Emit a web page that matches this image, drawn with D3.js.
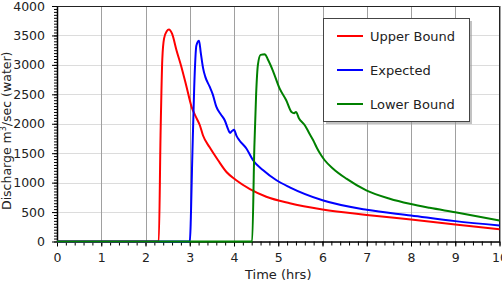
<!DOCTYPE html>
<html>
<head>
<meta charset="utf-8">
<script src="https://cdn.jsdelivr.net/npm/d3@7"></script>
<style>
  body { margin: 0; background: #fff; }
  text { font-family: Verdana, "DejaVu Sans", sans-serif; fill: #222; }
</style>
</head>
<body>
<div id="chart"></div>
<script>
// hydrograph data (time in hrs, discharge)
var upperT = [0, 2.30, 2.34, 2.38, 2.42, 2.48, 2.53, 2.60, 2.70, 2.81, 2.92, 3.04, 3.15, 3.23, 3.30, 3.45, 3.64, 3.83, 4.05, 4.36, 4.73, 5.26, 6.0, 7.0, 8.0, 9.0, 10];
var upperQ = [0, 0, 1800, 3100, 3450, 3570, 3600, 3530, 3250, 2970, 2650, 2290, 2100, 1970, 1800, 1600, 1380, 1180, 1040, 890, 760, 650, 545, 452, 372, 290, 210];

var expT = [0, 3.00, 3.06, 3.10, 3.15, 3.21, 3.25, 3.30, 3.35, 3.45, 3.52, 3.60, 3.70, 3.79, 3.87, 3.91, 3.96, 4.00, 4.06, 4.12, 4.28, 4.43, 4.66, 4.96, 5.26, 6.0, 7.0, 8.0, 9.0, 10];
var expQ = [0, 0, 1500, 2600, 3330, 3410, 3200, 2950, 2800, 2630, 2500, 2290, 2160, 2060, 1900, 1845, 1880, 1900, 1790, 1720, 1580, 1380, 1210, 1040, 920, 700, 538, 443, 346, 272];

var lowerT = [0, 4.41, 4.46, 4.50, 4.54, 4.60, 4.70, 4.76, 4.88, 5.03, 5.18, 5.30, 5.36, 5.40, 5.47, 5.60, 5.70, 5.79, 5.88, 5.97, 6.05, 6.24, 6.54, 6.99, 7.52, 7.97, 8.42, 9.0, 10];
var lowerQ = [0, 0, 1600, 2500, 3000, 3170, 3180, 3100, 2900, 2600, 2400, 2200, 2180, 2200, 2090, 1975, 1840, 1720, 1580, 1465, 1380, 1237, 1067, 868, 726, 640, 572, 497, 357];

var seriesNames = ["Upper Bound", "Expected", "Lower Bound"];
var seriesColors = ["#ff0000", "#0000ff", "#008000"];
var xTicks = [0, 1, 2, 3, 4, 5, 6, 7, 8, 9, 10];
var yTicks = [0, 500, 1000, 1500, 2000, 2500, 3000, 3500, 4000];

var margin = { top: 6, right: 2.5, bottom: 43.5, left: 57 },
    width = 502 - margin.left - margin.right,
    height = 285 - margin.top - margin.bottom;

var svg = d3.select("#chart")
    .append("svg")
    .attr("width", 502)
    .attr("height", 285)
    .append("g")
    .attr("transform", "translate(" + margin.left + "," + margin.top + ")");

var x = d3.scaleLinear().domain([0, 10]).range([0, width]);
var y = d3.scaleLinear().domain([0, 4000]).range([height, 0]);

// grid lines
svg.append("g").selectAll("line")
    .data(yTicks)
    .enter().append("line")
    .attr("x1", 0).attr("x2", width)
    .attr("y1", function(d) { return Math.round(y(d)) + 0.5; })
    .attr("y2", function(d) { return Math.round(y(d)) + 0.5; })
    .attr("stroke", "#dcdcdc");

svg.append("g").selectAll("line")
    .data(xTicks)
    .enter().append("line")
    .attr("y1", 0).attr("y2", height)
    .attr("x1", function(d) { return Math.round(x(d)) + 0.5; })
    .attr("x2", function(d) { return Math.round(x(d)) + 0.5; })
    .attr("stroke", "#a0a0a0");

// border top / right
svg.append("path")
    .attr("d", "M0,0.5H" + width + "V" + height)
    .attr("fill", "none")
    .attr("stroke", "#222");

// minor ticks
var xMinor = d3.range(0, 10.001, 0.2);
var yMinor = d3.range(0, 4000.1, 50);

svg.append("g")
    .attr("transform", "translate(0," + height + ")")
    .call(d3.axisBottom(x).tickValues(xMinor).tickSize(4).tickFormat(""))
    .call(function(g) { g.select(".domain").remove(); });

svg.append("g")
    .call(d3.axisLeft(y).tickValues(yMinor).tickSize(3).tickFormat(""))
    .call(function(g) { g.select(".domain").remove(); });

// main axes
var xAxis = svg.append("g")
    .attr("transform", "translate(0," + height + ")")
    .call(d3.axisBottom(x).tickValues(xTicks).tickSize(5).tickSizeOuter(0).tickPadding(7).tickFormat(d3.format("d")));
xAxis.selectAll("text").attr("font-size", "12.5px");
xAxis.select(".domain").attr("stroke-width", 1.5);

var yAxis = svg.append("g")
    .call(d3.axisLeft(y).tickValues(yTicks).tickSize(5).tickSizeOuter(0).tickPadding(7).tickFormat(d3.format("d")));
yAxis.selectAll("text").attr("font-size", "12.5px");
yAxis.select(".domain").attr("stroke-width", 1.5);

// axis titles
svg.append("text")
    .attr("x", width / 2)
    .attr("y", height + 37)
    .attr("text-anchor", "middle")
    .attr("font-size", "13px")
    .text("Time (hrs)");

var yTitle = svg.append("text")
    .attr("transform", "translate(" + (-margin.left + 11) + "," + (height / 2 + 7) + ") rotate(-90)")
    .attr("text-anchor", "middle")
    .attr("font-size", "12.5px");
yTitle.append("tspan").text("Discharge m");
yTitle.append("tspan").attr("font-size", "8px").attr("dy", "-5").text("3");
yTitle.append("tspan").attr("dy", "5").text("/sec (water)");

// lines
var series = [
  { t: upperT, q: upperQ },
  { t: expT, q: expQ },
  { t: lowerT, q: lowerQ }
];

var line = d3.line()
    .x(function(d) { return x(d[0]); })
    .y(function(d) { return y(d[1]); })
    .curve(d3.curveMonotoneX);

series.forEach(function(s, i) {
  var pts = s.t.map(function(t, j) { return [t, s.q[j]]; });
  svg.append("path")
      .datum(pts)
      .attr("d", line)
      .attr("fill", "none")
      .attr("stroke", seriesColors[i])
      .attr("stroke-width", 2);
});

// legend
var lx = 323 - margin.left, ly = 18 - margin.top, lw = 146, lh = 103;
svg.append("rect")
    .attr("x", lx + 3).attr("y", ly + 3)
    .attr("width", lw).attr("height", lh)
    .attr("fill", "#999")
    .attr("opacity", 0.6);
svg.append("rect")
    .attr("x", lx + 0.5).attr("y", ly + 0.5)
    .attr("width", lw).attr("height", lh)
    .attr("fill", "#fff")
    .attr("stroke", "#444");

seriesNames.forEach(function(name, i) {
  var yy = ly + 18 + i * 34;
  svg.append("line")
      .attr("x1", lx + 14).attr("x2", lx + 40)
      .attr("y1", yy).attr("y2", yy)
      .attr("stroke", seriesColors[i])
      .attr("stroke-width", 2);
  svg.append("text")
      .attr("x", lx + 47).attr("y", yy)
      .attr("dy", "0.35em")
      .attr("font-size", "13px")
      .text(name);
});
</script>
</body>
</html>
